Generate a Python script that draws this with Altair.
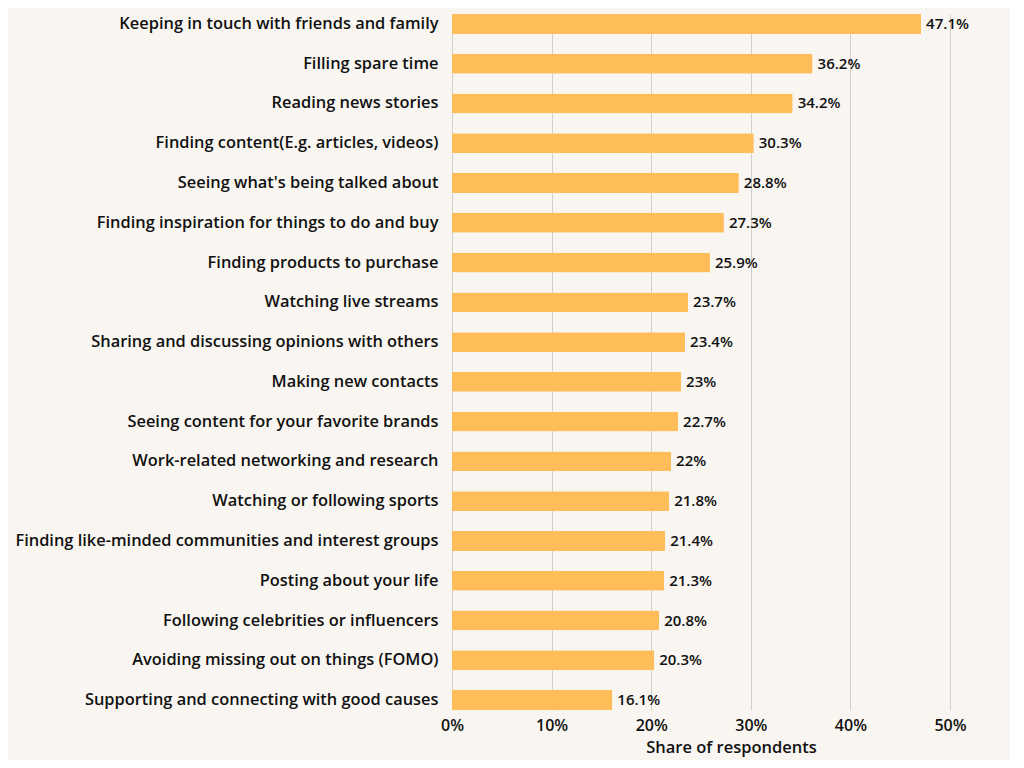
import altair as alt
import pandas as pd

categories = [
    "Keeping in touch with friends and family",
    "Filling spare time",
    "Reading news stories",
    "Finding content(E.g. articles, videos)",
    "Seeing what's being talked about",
    "Finding inspiration for things to do and buy",
    "Finding products to purchase",
    "Watching live streams",
    "Sharing and discussing opinions with others",
    "Making new contacts",
    "Seeing content for your favorite brands",
    "Work-related networking and research",
    "Watching or following sports",
    "Finding like-minded communities and interest groups",
    "Posting about your life",
    "Following celebrities or influencers",
    "Avoiding missing out on things (FOMO)",
    "Supporting and connecting with good causes",
]
values = [47.1, 36.2, 34.2, 30.3, 28.8, 27.3, 25.9, 23.7, 23.4, 23.0, 22.7, 22.0, 21.8, 21.4, 21.3, 20.8, 20.3, 16.1]
labels = ["47.1%", "36.2%", "34.2%", "30.3%", "28.8%", "27.3%", "25.9%", "23.7%", "23.4%", "23%",
          "22.7%", "22%", "21.8%", "21.4%", "21.3%", "20.8%", "20.3%", "16.1%"]

df = pd.DataFrame({"cat": categories, "val": values, "lab": labels})

FONT = "Open Sans"
INK = "#111111"

y = alt.Y("cat:N", sort=categories, title=None,
          scale=alt.Scale(paddingInner=0.5, paddingOuter=0),
          axis=alt.Axis(domain=False, ticks=False, labelPadding=14, labelFontSize=16.4,
                        labelFont=FONT, labelFontWeight=600, labelColor=INK, labelLimit=500))
x = alt.X("val:Q", title="Share of respondents",
          scale=alt.Scale(domain=[0, 50]),
          axis=alt.Axis(values=[0, 10, 20, 30, 40, 50], labelExpr="datum.value + '%'",
                        domain=False, ticks=False, grid=True, gridColor="#d3d0cc",
                        labelFlush=False,
                        labelFont=FONT, labelFontSize=16, labelFontWeight=600, labelColor=INK,
                        labelPadding=7, titleFont=FONT, titleFontSize=16.5, titleFontWeight=600,
                        titleColor=INK, titlePadding=6, titleX=279))

bars = alt.Chart(df).mark_bar(color="#ffbd59", cornerRadius=1).encode(x=x, y=y)
text = alt.Chart(df).mark_text(align="left", dx=5, font=FONT, fontSize=15, fontWeight=600,
                               color=INK).encode(x="val:Q", y=alt.Y("cat:N", sort=categories), text="lab:N")

chart = (bars + text).properties(
    width=498, height=696,
    background="#f9f6f1",
    autosize=alt.AutoSizeParams(type="none"),
    padding={"left": 444, "top": 6, "right": 60, "bottom": 50},
).configure_view(stroke=None)

chart.save("out.html", embed_options={"renderer": "svg", "actions": False})
